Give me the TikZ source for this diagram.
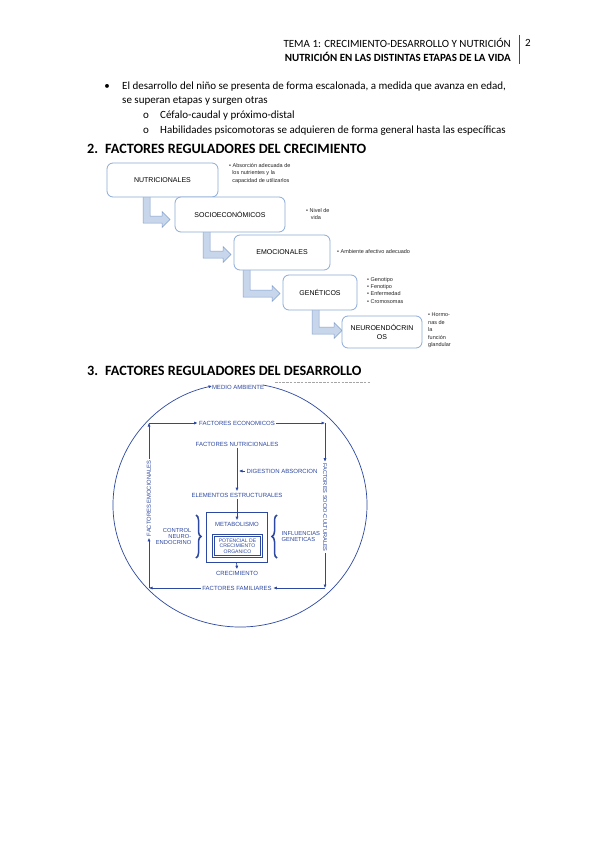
\documentclass[tikz,border=0pt]{standalone}
\usepackage{fontspec}
\setmainfont{Carlito}
\newfontfamily\arialf{Liberation Sans}
\usetikzlibrary{arrows.meta,decorations.pathreplacing,calc}
\definecolor{diagblue}{RGB}{45,72,160}
\definecolor{boxline}{RGB}{140,170,215}
\definecolor{arrowfill}{RGB}{200,214,235}
\definecolor{arrowline}{RGB}{130,160,205}
\begin{document}
\begin{tikzpicture}[x=1pt,y=-1pt,
 body/.style={font=\fontsize{11}{13}\selectfont, anchor=west, inner sep=0},
 heading/.style={font=\fontsize{14.2}{16}\selectfont\bfseries, anchor=west, inner sep=0},
 fbox/.style={draw=boxline, line width=0.8pt, rounded corners=6pt, fill=white, font=\arialf\fontsize{7}{9.5}\selectfont, align=center, inner sep=1pt},
 bent/.style={fill=arrowfill, draw=arrowline, line width=0.5pt},
 note/.style={font=\arialf\fontsize{5.5}{7.6}\selectfont, anchor=north west, align=left, inner sep=0, text=black!85},
 dtext/.style={font=\arialf\fontsize{6}{6.4}\selectfont, text=diagblue, inner sep=1.5pt},
 dline/.style={draw=diagblue, line width=0.7pt},
 darr/.style={dline, -{Latex[length=3.5pt,width=3.2pt]}},
]
\useasboundingbox[fill=white] (0,0) rectangle (599,848);

% header
\node[font=\fontsize{11}{13}\selectfont, anchor=east, inner sep=0] (h1) at (511,43) {TEMA 1: CRECIMIENTO-DESARROLLO Y NUTRICIÓN};
\node[font=\fontsize{11}{13}\selectfont\bfseries, anchor=east, inner sep=0] (h2) at (511,57) {NUTRICIÓN EN LAS DISTINTAS ETAPAS DE LA VIDA};
\coordinate (vt) at (519,35); \coordinate (vb) at (519,64);
\draw[line width=0.8pt, black!70] (vt) -- (vb);
\node[font=\fontsize{11}{13}\selectfont, anchor=west, inner sep=0] (pg) at (525,43) {2};

% bullets
\node[body, anchor=center] (bu) at (107,87) {\textbullet};
\node[body] (t1) at (122,87) {El desarrollo del niño se presenta de forma escalonada, a medida que avanza en edad,};
\node[body] (t2) at (122,101) {se superan etapas y surgen otras};
\node[body] (o1) at (143,116) {o};
\node[body] (s1) at (160,116) {Céfalo-caudal y próximo-distal};
\node[body] (o2) at (143,131) {o};
\node[body] (s2) at (160,131) {Habilidades psicomotoras se adquieren de forma general hasta las específicas};

% heading 2
\node[heading] (n2) at (87,149) {2.};
\node[heading] (hd2) at (105,149) {FACTORES REGULADORES DEL CRECIMIENTO};

% bent arrows
\newcommand\bentarrow[4]{% xl, ytop, ybottom, xtip
  \filldraw[bent] (#1,#2) -- ({#1+7},#2) -- ({#1+7},{#3-7}) -- ({#4-8},{#3-7}) -- ({#4-8},{#3-11.5}) -- (#4,{#3-3.5}) -- ({#4-8},{#3+4.5}) -- ({#4-8},#3) -- (#1,#3) -- cycle;}
\bentarrow{143}{196}{223}{170}
\bentarrow{203}{231}{258}{231}
\bentarrow{243}{269}{297}{280}
\bentarrow{312}{309}{334}{342}

% boxes
\node[fbox, minimum width=111, minimum height=34] (nut) at (162.5,180) {NUTRICIONALES};
\node[fbox, minimum width=110, minimum height=35] (soc1) at (230,214.5) {SOCIOECONÓMICOS};
\node[fbox, minimum width=96, minimum height=35] (emo1) at (282,252.5) {EMOCIONALES};
\node[fbox, minimum width=74, minimum height=35] (gen) at (320,292.5) {GENÉTICOS};
\node[fbox, minimum width=80, minimum height=32] (neu) at (382,332) {NEUROENDÓCRIN\\OS};

% notes
\node[note] (nt1) at (229,163) {• Absorción adecuada de\\\ \ los nutrientes y la\\\ \ capacidad de utilizarlos};
\node[note] (nt2) at (306,208) {• Nivel de\\\ \ \ vida};
\node[note] (nt3) at (337,249) {• Ambiente afectivo adecuado};
\node[note, font=\arialf\fontsize{5.5}{7.4}\selectfont] (nt4) at (367,277) {• Genotipo\\• Fenotipo\\• Enfermedad\\• Cromosomas};
\node[note, font=\arialf\fontsize{5.5}{7.4}\selectfont] (nt5) at (428,313) {• Hormo-\\nas de\\la\\función\\glandular};

% heading 3
\node[heading] (n3) at (87,371) {3.};
\node[heading] (hd3) at (105,371) {FACTORES REGULADORES DEL DESARROLLO};
\coordinate (ds1) at (275,382); \coordinate (ds2) at (371,382);
\draw[gray!70, line width=1pt, dash pattern=on 2.5pt off 1.2pt] (ds1) -- (ds2);

% circle diagram
\coordinate (ctr) at (240,505);
\node[dtext] (medio) at (238,387) {MEDIO AMBIENTE};
\draw[darr] ([shift={(280.4:127 and 122)}]ctr) arc[start angle=280.4, end angle=617.3, x radius=127, y radius=122];

\coordinate (tl) at (149,423); \coordinate (tr) at (325,423);
\coordinate (br) at (325,588); \coordinate (bl) at (149,588);
\node[dtext] (econ) at (237,423) {FACTORES ECONOMICOS};
\node[dtext, rotate=-90, font=\arialf\fontsize{5.6}{6}\selectfont] (soc) at (325,507.5) {FACTORES SOCIO-CULTURALES};
\node[dtext] (fam) at (237,588) {FACTORES FAMILIARES};
\node[dtext, rotate=90, font=\arialf\fontsize{5.8}{6}\selectfont] (emo) at (149,498.5) {FACTORES EMOCIONALES};
\draw[darr] (tl) -- (econ.west);
\draw[darr] (econ.east) -- (tr);
\draw[darr] (tr) -- (soc.west);
\draw[darr] (soc.east) -- (br);
\draw[darr] (br) -- (fam.east);
\draw[darr] (fam.west) -- (bl);
\draw[darr] (bl) -- (emo.west);
\draw[darr] (emo.east) -- (tl);

\node[dtext] (nutr) at (237,444) {FACTORES NUTRICIONALES};
\node[dtext] (elem) at (237,495) {ELEMENTOS ESTRUCTURALES};
\node[dtext, anchor=west] (dig) at (245,471) {DIGESTION ABSORCION};
\draw[darr] (nutr.south) -- (elem.north);
\draw[darr] (dig.west) -- ($(dig.west -| nutr.south)+(2,0)$);

\node[draw=diagblue, line width=0.7pt, minimum width=61, minimum height=50, inner sep=0] (metabox) at (236.5,537) {};
\node[dtext] (meta) at (237,524) {METABOLISMO};
\node[dtext, draw=diagblue, line width=0.45pt, align=center, minimum width=46, minimum height=19, inner sep=0, font=\arialf\fontsize{5.1}{5.7}\selectfont] (pot) at (237.5,546) {POTENCIAL DE\\CRECIMIENTO\\ORGANICO};
\draw[diagblue, line width=0.7pt] ($(pot.north west)+(-1.8,-1.8)$) rectangle ($(pot.south east)+(1.8,1.8)$);
\draw[darr] (elem.south) -- (meta.north);
\node[dtext] (crec) at (237,573) {CRECIMIENTO};
\draw[darr] (metabox.south) -- (crec.north);

\node[dtext, align=right, anchor=east, font=\arialf\fontsize{5.8}{6}\selectfont] (ctrl) at (193,536) {CONTROL\\NEURO-\\ENDOCRINO};
\node[dtext, align=left, anchor=west, font=\arialf\fontsize{5.8}{6}\selectfont] (infl) at (280,536) {INFLUENCIAS\\GENETICAS};
\coordinate (b1t) at (196,515); \coordinate (b1b) at (196,558);
\coordinate (b2t) at (277,515); \coordinate (b2b) at (277,558);
\draw[diagblue, line width=1.5pt, decorate, decoration={brace, amplitude=5pt}] (b1t) -- (b1b);
\draw[diagblue, line width=1.5pt, decorate, decoration={brace, amplitude=5pt}] (b2b) -- (b2t);
\end{tikzpicture}
\end{document}
